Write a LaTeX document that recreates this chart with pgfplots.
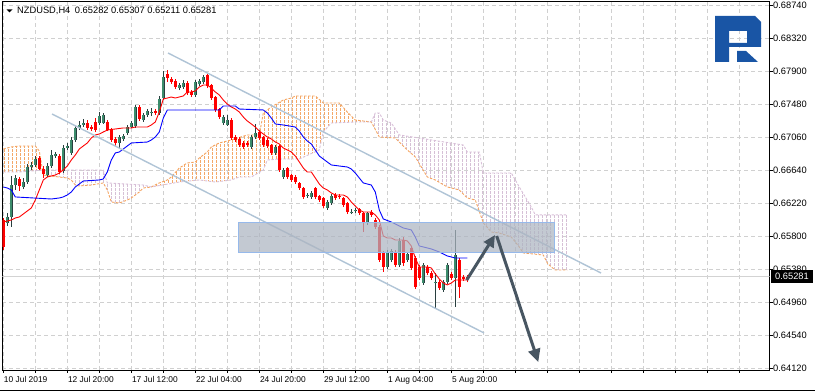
\documentclass[border=0pt]{standalone}
\usepackage{fontspec}
\setmainfont{Liberation Sans}
\usepackage{pgfplots}
\pgfplotsset{compat=1.18}
\usepackage{pgfplotstable}
\usepgfplotslibrary{fillbetween}
\usetikzlibrary{arrows.meta}

\definecolor{bullfill}{RGB}{60,140,108}
\definecolor{bullline}{RGB}{40,62,62}
\definecolor{bearc}{RGB}{255,0,0}
\definecolor{spanA}{RGB}{244,164,96}
\definecolor{spanB}{RGB}{216,191,216}
\definecolor{hatchA}{RGB}{244,168,104}
\definecolor{hatchB}{RGB}{214,192,214}
\definecolor{gridc}{RGB}{208,208,208}
\definecolor{chanc}{RGB}{176,196,214}
\definecolor{rectfill}{RGB}{172,180,192}
\definecolor{rectline}{RGB}{150,185,235}
\definecolor{arrowc}{RGB}{72,86,98}
\definecolor{logoc}{RGB}{25,85,165}
\definecolor{pricec}{RGB}{211,211,211}

\tikzset{hatch/.style={fill=none, draw=none, path picture={%
  \foreach \k in {0,...,145} {%
    \draw[#1, line width=0.7bp, dash pattern=on 2.6bp off 1.4bp]
      ([xshift=\k*4bp+1bp]path picture bounding box.south west) --
      ([xshift=\k*4bp+1bp]path picture bounding box.north west);
  }}}}

\pgfplotstableread{
i o h l c
1 0.65966 0.66093 0.65928 0.66042
2 0.66042 0.66564 0.65915 0.66449
3 0.66449 0.66576 0.66386 0.66538
5 0.66424 0.66538 0.66398 0.66487
6 0.66487 0.66717 0.66462 0.66678
7 0.66678 0.66742 0.66640 0.66704
8 0.66704 0.66818 0.66678 0.66780
11 0.66576 0.66729 0.66551 0.66691
12 0.66691 0.66895 0.66666 0.66831
13 0.66818 0.66869 0.66793 0.66844
15 0.66627 0.66958 0.66602 0.66920
16 0.66920 0.66984 0.66895 0.66946
17 0.66857 0.67060 0.66831 0.67022
18 0.67022 0.67213 0.66996 0.67175
19 0.67175 0.67264 0.67149 0.67213
20 0.67213 0.67289 0.67187 0.67238
24 0.67238 0.67378 0.67213 0.67327
25 0.67238 0.67365 0.67226 0.67340
29 0.66984 0.67086 0.66920 0.67060
30 0.67035 0.67098 0.67009 0.67073
31 0.67111 0.67213 0.67086 0.67187
32 0.67187 0.67264 0.67175 0.67238
33 0.67200 0.67467 0.67175 0.67442
35 0.67276 0.67365 0.67251 0.67340
36 0.67340 0.67416 0.67315 0.67391
37 0.67378 0.67429 0.67327 0.67380
39 0.67365 0.67582 0.67340 0.67544
40 0.67556 0.67900 0.67531 0.67824
44 0.67684 0.67747 0.67658 0.67722
45 0.67696 0.67785 0.67671 0.67747
48 0.67595 0.67785 0.67569 0.67760
49 0.67735 0.67798 0.67709 0.67773
50 0.67760 0.67849 0.67735 0.67824
55 0.67238 0.67340 0.67213 0.67315
56 0.67213 0.67340 0.67200 0.67276
62 0.66933 0.67086 0.66907 0.67060
63 0.67060 0.67226 0.67035 0.67111
68 0.66857 0.66958 0.66831 0.66933
70 0.66551 0.66666 0.66526 0.66640
76 0.66322 0.66348 0.66284 0.66324
77 0.66297 0.66373 0.66271 0.66348
81 0.66157 0.66258 0.66131 0.66233
82 0.66220 0.66335 0.66195 0.66309
87 0.66106 0.66144 0.66080 0.66108
88 0.66118 0.66157 0.66093 0.66131
91 0.65966 0.66106 0.65940 0.66093
96 0.65406 0.65622 0.65380 0.65584
97 0.65495 0.65635 0.65469 0.65609
99 0.65431 0.65775 0.65406 0.65737
101 0.65495 0.65597 0.65469 0.65571
105 0.65202 0.65457 0.65177 0.65431
108 0.65202 0.65329 0.64884 0.65215
110 0.65113 0.65240 0.65088 0.65215
111 0.65215 0.65457 0.65189 0.65431
113 0.65266 0.65877 0.64897 0.65558
}\bull

\pgfplotstableread{
i o h l c
0 0.66004 0.66029 0.65622 0.65660
4 0.66526 0.66551 0.66373 0.66437
9 0.66793 0.66818 0.66640 0.66653
10 0.66653 0.66691 0.66538 0.66589
14 0.66818 0.66844 0.66589 0.66615
21 0.67238 0.67276 0.67149 0.67175
22 0.67187 0.67213 0.67136 0.67162
23 0.67251 0.67302 0.67124 0.67149
26 0.67251 0.67276 0.67136 0.67149
27 0.67162 0.67175 0.66996 0.67022
28 0.67035 0.67060 0.66946 0.66984
34 0.67442 0.67467 0.67264 0.67289
38 0.67391 0.67416 0.67340 0.67365
41 0.67862 0.67913 0.67760 0.67811
42 0.67798 0.67824 0.67735 0.67760
43 0.67773 0.67798 0.67671 0.67696
46 0.67747 0.67773 0.67595 0.67620
47 0.67633 0.67658 0.67569 0.67595
51 0.67849 0.67862 0.67684 0.67709
52 0.67722 0.67735 0.67531 0.67556
53 0.67569 0.67582 0.67378 0.67404
54 0.67416 0.67429 0.67289 0.67315
57 0.67276 0.67302 0.67022 0.67047
58 0.67060 0.67086 0.66996 0.67022
59 0.67035 0.67060 0.66933 0.66958
60 0.66984 0.67009 0.66907 0.66933
61 0.66984 0.67009 0.66933 0.66958
64 0.67124 0.67149 0.67022 0.67047
65 0.67060 0.67073 0.66933 0.66958
66 0.67022 0.67047 0.66920 0.66946
67 0.66958 0.66971 0.66831 0.66857
69 0.66946 0.66958 0.66615 0.66640
71 0.66666 0.66678 0.66526 0.66551
72 0.66576 0.66589 0.66487 0.66513
73 0.66551 0.66576 0.66462 0.66487
74 0.66475 0.66487 0.66386 0.66411
75 0.66411 0.66424 0.66271 0.66297
78 0.66411 0.66424 0.66271 0.66297
79 0.66309 0.66322 0.66233 0.66258
80 0.66284 0.66297 0.66157 0.66182
83 0.66322 0.66348 0.66258 0.66284
84 0.66309 0.66335 0.66271 0.66297
85 0.66284 0.66297 0.66169 0.66195
86 0.66220 0.66233 0.66080 0.66106
89 0.66144 0.66157 0.66068 0.66093
90 0.66093 0.66106 0.65851 0.65966
92 0.66106 0.66131 0.66042 0.66068
93 0.66004 0.66029 0.65889 0.65915
94 0.65915 0.65940 0.65469 0.65495
95 0.65584 0.65609 0.65342 0.65406
98 0.65597 0.65622 0.65406 0.65431
100 0.65749 0.65787 0.65418 0.65457
102 0.65647 0.65673 0.65367 0.65393
103 0.65520 0.65546 0.65126 0.65151
104 0.65406 0.65431 0.65240 0.65266
106 0.65406 0.65431 0.65304 0.65329
107 0.65329 0.65355 0.65240 0.65266
109 0.65215 0.65240 0.65113 0.65138
112 0.65317 0.65342 0.65240 0.65266
114 0.65495 0.65520 0.65011 0.65151
115 0.65278 0.65304 0.65228 0.65253
116 0.65282 0.65307 0.65211 0.65270
}\bear

\newcommand{\ticksize}{\fontsize{9.3bp}{10bp}\selectfont}
\newcommand{\xticksize}{\fontsize{8.4bp}{10bp}\selectfont}

\begin{document}
\begin{tikzpicture}
\begin{axis}[
  at={(2.3bp,22bp)}, anchor=south west, scale only axis,
  width=767.2bp, height=369bp,
  xmin=-0.25, xmax=191.55, ymin=0.640946, ymax=0.687909,
  axis line style={black, line width=0.9bp},
  xtick={0,8,...,184},
  xticklabels={10 Jul 2019,,12 Jul 20:00,,17 Jul 12:00,,22 Jul 04:00,,24 Jul 20:00,,29 Jul 12:00,,1 Aug 04:00,,5 Aug 20:00,,,,,,,,,},
  ytick={0.64120,0.64540,0.64960,0.65380,0.65800,0.66220,0.66640,0.67060,0.67480,0.67900,0.68320,0.68740},
  yticklabels={0.64120,0.64540,0.64960,0.65380,0.65800,0.66220,0.66640,0.67060,0.67480,0.67900,0.68320,0.68740},
  scaled y ticks=false,
  /pgf/number format/assume math mode=true,
  tick align=outside, major tick length=3bp,
  xtick pos=bottom, ytick pos=right, yticklabel pos=right,
  tick style={black, line width=0.8bp},
  xticklabel style={font=\xticksize, anchor=north west, inner sep=0pt, xshift=0.5bp, yshift=-3bp},
  yticklabel style={font=\ticksize, anchor=west, inner sep=0pt, xshift=0.5bp},
  grid=major,
  major grid style={draw=gridc, dash pattern=on 4bp off 3bp, line width=0.8bp},
]
% current price line
\addplot[pricec, line width=0.9bp, forget plot] coordinates {(-0.25,0.65281) (191.55,0.65281)};

% Senkou span A and B
\addplot[name path=SA, spanA, line width=0.9bp, dash pattern=on 2.5bp off 1.5bp, forget plot] coordinates {
(0,0.66907) (2,0.66933) (4,0.66946) (8,0.66946) (9,0.66882) (10,0.66576) (16,0.66538) (17,0.66513)
(18,0.66449) (19,0.66437) (22,0.66449) (25,0.66475) (26,0.66386) (27,0.66233) (29,0.66220) (31,0.66258)
(32,0.66284) (34,0.66360) (35,0.66411) (37,0.66424) (39,0.66475) (41,0.66513) (42,0.66551) (44,0.66666)
(46,0.66729) (48,0.66742) (49,0.66793) (51,0.66869) (52,0.66933) (54,0.66984) (57,0.67022) (61,0.67086)
(64,0.67086) (65,0.67365) (67,0.67442) (70,0.67531) (72,0.67556) (73,0.67582) (78,0.67582) (80,0.67493)
(84,0.67493) (86,0.67378) (88,0.67276) (92,0.67251) (94,0.67060) (98,0.67047) (101,0.66895) (103,0.66806)
(106,0.66551) (108,0.66513) (111,0.66424) (114,0.66386) (116,0.66284) (118,0.66258) (120,0.65966) (122,0.65851)
(124,0.65838) (127,0.65787) (129,0.65660) (130,0.65584) (135,0.65558) (136,0.65457) (137,0.65406) (138,0.65367)
(141,0.65367)};
\addplot[name path=SB, spanB, line width=0.9bp, dash pattern=on 2.5bp off 1.5bp, forget plot] coordinates {
(0,0.66615) (4,0.66615) (10,0.66640) (25,0.66640) (26,0.66475) (35,0.66449) (37,0.66424) (44,0.66487)
(49,0.66513) (53,0.66487) (57,0.66513) (59,0.66551) (62,0.66551) (65,0.66640) (66,0.66767) (69,0.66780)
(74,0.66780) (79,0.66895) (80,0.67124) (82,0.67238) (88,0.67251) (92,0.67251) (93,0.67365) (94,0.67365)
(95,0.67276) (97,0.67238) (99,0.67086) (104,0.67047) (115,0.66958) (116,0.66869) (119,0.66869) (120,0.66602)
(127,0.66602) (129,0.66424) (132,0.66169) (133,0.66068) (141,0.66068)};
\addplot[hatch=hatchA, forget plot] fill between[of=SA and SB, soft clip={domain=0:9.7}];
\addplot[hatch=hatchB, forget plot] fill between[of=SA and SB, soft clip={domain=9.7:37}];
\addplot[hatch=hatchA, forget plot] fill between[of=SA and SB, soft clip={domain=37:91.5}];
\addplot[hatch=hatchB, forget plot] fill between[of=SA and SB, soft clip={domain=91.5:141}];

% candles: wicks
\addplot[draw=none, mark=none, forget plot, error bars/.cd, y dir=plus, y explicit, error mark=none,
  error bar style={line width=1bp, draw=bullline, solid}]
  table[x=i, y=l, y error plus expr=\thisrow{h}-\thisrow{l}] {\bull};
\addplot[draw=none, mark=none, forget plot, error bars/.cd, y dir=plus, y explicit, error mark=none,
  error bar style={line width=1bp, draw=bearc, solid}]
  table[x=i, y=l, y error plus expr=\thisrow{h}-\thisrow{l}] {\bear};
% candles: bodies
\addplot[draw=none, mark=none, forget plot, error bars/.cd, y dir=plus, y explicit, error mark=none,
  error bar style={line width=3.2bp, draw=bullline, solid}]
  table[x=i, y=o, y error plus expr=\thisrow{c}-\thisrow{o}] {\bull};
\addplot[draw=none, mark=none, forget plot, error bars/.cd, y dir=plus, y explicit, error mark=none,
  error bar style={line width=2bp, draw=bullfill, solid}]
  table[x=i, y=o, y error plus expr=\thisrow{c}-\thisrow{o}] {\bull};
\addplot[draw=none, mark=none, forget plot, error bars/.cd, y dir=plus, y explicit, error mark=none,
  error bar style={line width=3bp, draw=bearc, solid}]
  table[x=i, y=c, y error plus expr=\thisrow{o}-\thisrow{c}] {\bear};

% Tenkan-sen
\addplot[red, line width=0.9bp, forget plot] coordinates {
(0,0.65978) (1,0.65991) (2,0.66004) (3,0.66029) (4,0.66042) (5,0.66080) (6,0.66118) (7,0.66157)
(8,0.66258) (9,0.66386) (10,0.66513) (11,0.66551) (12,0.66564) (13,0.66576) (14,0.66602) (15,0.66640)
(16,0.66691) (17,0.66767) (18,0.66831) (19,0.66907) (20,0.66946) (21,0.66984) (22,0.67047) (23,0.67086)
(24,0.67098) (25,0.67124) (26,0.67149) (28,0.67162) (30,0.67175) (32,0.67175) (33,0.67187) (36,0.67187)
(37,0.67213) (38,0.67251) (39,0.67378) (40,0.67544) (41,0.67556) (42,0.67569) (43,0.67556) (44,0.67569)
(45,0.67582) (46,0.67633) (47,0.67633) (48,0.67645) (49,0.67696) (50,0.67722) (51,0.67722) (52,0.67684)
(53,0.67633) (54,0.67595) (55,0.67531) (56,0.67480) (57,0.67442) (58,0.67416) (59,0.67378) (60,0.67315)
(61,0.67264) (62,0.67226) (63,0.67187) (64,0.67136) (65,0.67098) (66,0.67060) (67,0.67035) (68,0.66996)
(69,0.66971) (70,0.66920) (71,0.66895) (72,0.66869) (73,0.66818) (74,0.66742) (75,0.66666) (76,0.66615)
(77,0.66615) (78,0.66538) (79,0.66462) (80,0.66411) (81,0.66386) (82,0.66348) (83,0.66322) (85,0.66322)
(86,0.66297) (87,0.66233) (88,0.66182) (89,0.66131) (90,0.66106) (92,0.66106) (93,0.66068) (94,0.66004)
(95,0.65800) (96,0.65775) (97,0.65775) (98,0.65749) (100,0.65749) (101,0.65737) (102,0.65673) (103,0.65520)
(104,0.65406) (106,0.65406) (107,0.65393) (108,0.65317) (109,0.65253) (110,0.65202) (111,0.65177) (112,0.65202)
(113,0.65240) (116,0.65240)};
% Kijun-sen
\addplot[blue, line width=0.9bp, forget plot] coordinates {
(0,0.66424) (1,0.66411) (2,0.66386) (3,0.66297) (12,0.66271) (14,0.66284) (15,0.66297) (16,0.66322)
(17,0.66360) (18,0.66424) (19,0.66462) (20,0.66500) (24,0.66513) (25,0.66526) (26,0.66615) (27,0.66767)
(28,0.66857) (29,0.66869) (30,0.66907) (31,0.66946) (32,0.66984) (36,0.66996) (37,0.67022) (38,0.67060)
(39,0.67124) (40,0.67302) (41,0.67404) (54,0.67404) (55,0.67455) (58,0.67455) (59,0.67416) (65,0.67404)
(66,0.67365) (67,0.67302) (68,0.67226) (70,0.67213) (73,0.67187) (74,0.67136) (75,0.67060) (76,0.67009)
(77,0.66971) (78,0.66895) (79,0.66818) (80,0.66780) (81,0.66742) (82,0.66704) (86,0.66678) (87,0.66653)
(88,0.66602) (89,0.66538) (90,0.66475) (92,0.66449) (93,0.66360) (94,0.66131) (95,0.66017) (97,0.65978)
(99,0.65928) (100,0.65902) (102,0.65877) (103,0.65787) (104,0.65673) (107,0.65635) (109,0.65597) (111,0.65546)
(113,0.65520) (116,0.65520)};

% channel
\addplot[chanc, line width=1.4bp, forget plot] coordinates {(41.18,0.68129) (149.43,0.65329)};
\addplot[chanc, line width=1.4bp, forget plot] coordinates {(12.18,0.67353) (120.18,0.64566)};

% zone
\addplot[draw=rectline, line width=1bp, fill=rectfill, fill opacity=0.72, forget plot] coordinates {(58.9,0.65584) (137.9,0.65584) (137.9,0.65978) (58.9,0.65978)} -- cycle;

% arrows
\addplot[arrowc, line width=3bp, -{Triangle[length=12bp,width=11bp]}, forget plot] coordinates {(115.85,0.65240) (122.93,0.65813)};
\addplot[arrowc, line width=3bp, -{Triangle[length=13bp,width=12bp]}, forget plot] coordinates {(123.35,0.65800) (133.75,0.64196)};
\end{axis}

% title
\fill[black] (6.5bp,382.7bp) -- (12.5bp,382.7bp) -- (9.5bp,379.5bp) -- cycle;
\node[anchor=base west, inner sep=0pt, font=\fontsize{9.3bp}{10bp}\selectfont] at (17bp,378bp) {NZDUSD,H4\hspace{2bp} 0.65282 0.65307 0.65211 0.65281};

% price label
\fill[black] (771bp,109bp) rectangle (813bp,121.5bp);
\node[white, inner sep=0pt, font=\ticksize] at (792bp,115.3bp) {0.65281};

% logo
\fill[logoc, even odd rule] (715bp,376bp) -- (755bp,376bp) -- (761bp,370bp) -- (761bp,345bp) -- (729bp,345bp) -- (729bp,330bp) -- (715bp,330bp) -- cycle
  (729bp,361bp) rectangle (747bp,349bp);
\fill[logoc] (737bp,341bp) -- (746bp,341bp) -- (758bp,330bp) -- (737bp,330bp) -- cycle;

% window bottom line
\draw[black, line width=1bp] (0,1.5bp) -- (815bp,1.5bp);

\pgfresetboundingbox
\path[use as bounding box] (0,0) rectangle (815bp,392bp);
\end{tikzpicture}
\end{document}
